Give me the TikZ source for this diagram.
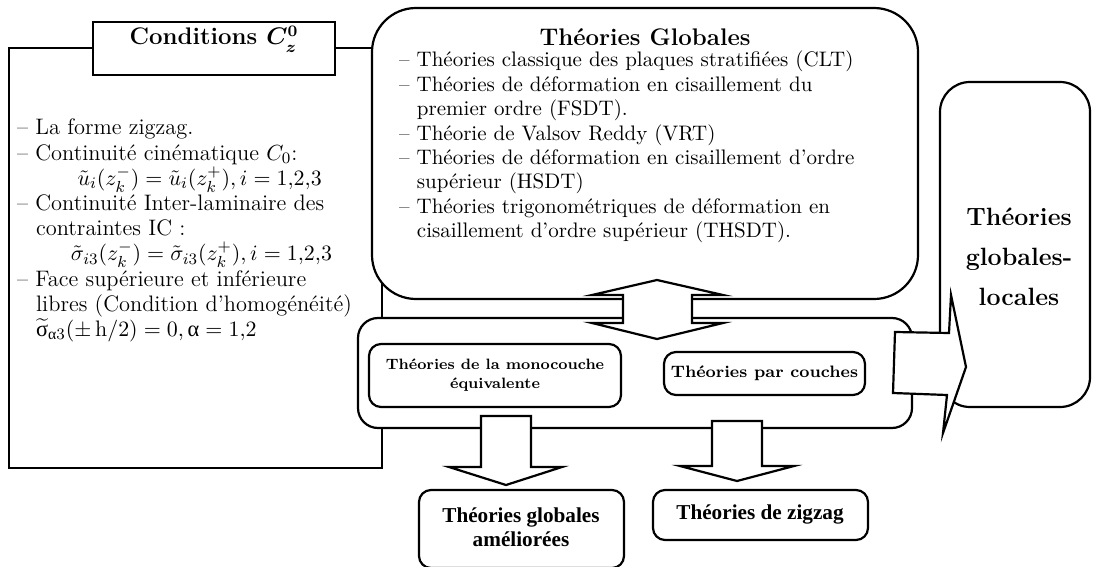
\documentclass[tikz,border=0pt]{standalone}
\usepackage{amsmath}
\usepackage{fontspec}
\newfontfamily\timesfont{Liberation Serif}
\newfontfamily\grk{Liberation Serif}
\usetikzlibrary{positioning,fit}
\tikzset{every path/.style={line width=1.1pt},
  box/.style={draw, fill=white, inner sep=0pt},
  rbox/.style={box, rounded corners=#1},
  barrow/.style={draw, fill=white, line join=miter},
  txt/.style={inner sep=0pt, align=left, font=\fontsize{11.2}{12.6}\selectfont},
  smallbold/.style={inner sep=0pt, align=center, font=\fontsize{7.5}{9.5}\selectfont\bfseries},
  timesbold/.style={inner sep=0pt, align=center, font=\fontsize{10.6}{11.8}\selectfont\timesfont\bfseries}}
\newcommand{\ind}{\hspace*{0.85em}}

\begin{document}
\begin{tikzpicture}[x=0.5pt,y=-0.5pt]
  \useasboundingbox (0,0) rectangle (1097,567);
  \node[box, fit={(9,48) (382,468)}] (cond) {};
  \node[box, fit={(93,22) (335,75)}, font=\fontsize{12}{14}\selectfont\bfseries] (condtitle) {Conditions $\boldsymbol{C_z^0}$};
  \node[txt, anchor=north west] (condtxt) at (16,118) {%
    \textendash{} La forme zigzag.\\
    \textendash{} Continuité cinématique $C_0$:\\
    \hspace*{2.7em}$\tilde u_i(z_k^-) = \tilde u_i(z_k^+), i = 1{,}2{,}3$\\
    \textendash{} Continuité Inter-laminaire des\\
    \ind contraintes IC :\\
    \hspace*{2.4em}$\tilde\sigma_{i3}(z_k^-) = \tilde\sigma_{i3}(z_k^+), i = 1{,}2{,}3$\\
    \textendash{} Face supérieure et inférieure\\
    \ind libres (Condition d'homogénéité)\\
    \ind $\widetilde{\text{\grk σ}}_{\text{\grk α}3}(\pm\,\mathrm{h}/2) = 0, \text{\grk α} = 1{,}2$};

  \node[rbox=22pt, fit={(372,8) (918,299)}] (glob) {};
  \node[inner sep=0pt, font=\fontsize{12}{14}\selectfont\bfseries] (globtitle) at (645,37) {Théories Globales};
  \node[txt, anchor=north west, font=\fontsize{10.5}{12.2}\selectfont] (globtxt) at (398,50) {%
    \textendash{} Théories classique des plaques stratifiées (CLT)\\
    \textendash{} Théories de déformation en cisaillement du\\
    \ind premier ordre (FSDT).\\
    \textendash{} Théorie de Valsov Reddy (VRT)\\
    \textendash{} Théories de déformation en cisaillement d'ordre\\
    \ind supérieur (HSDT)\\
    \textendash{} Théories trigonométriques de déformation en\\
    \ind cisaillement d'ordre supérieur (THSDT).};

  \node[rbox=15pt, fit={(940,82) (1090,407)}] (gl) {};
  \node[inner sep=0pt, align=center, font=\fontsize{12.5}{20}\selectfont\bfseries] (gltxt) at (1019,257) {Théories\\globales-\\locales};

  \node[rbox=10pt, fit={(358,318) (912,428)}] (mid) {};
  \node[rbox=6pt, fit={(369,344) (621,407)}] (mono) {};
  \node[smallbold] (monotxt) at (mono) {Théories de la monocouche\\équivalente};
  \node[rbox=6pt, fit={(664,352) (865,395)}] (couches) {};
  \node[smallbold, font=\fontsize{8.3}{10}\selectfont\bfseries] (couchestxt) at (couches) {Théories par couches};

  \draw[barrow] (657,280) -- (723,295) -- (692,295) -- (692,323) -- (723,323) -- (657,339)
    -- (592,323) -- (623,323) -- (623,295) -- (592,295) -- cycle;
  \draw[barrow] (481,416) -- (531,416) -- (531,467) -- (562,467) -- (506,485) -- (449,467) -- (481,467) -- cycle;
  \draw[barrow] (712,421) -- (762,421) -- (762,466) -- (794,466) -- (737,481) -- (680,466) -- (712,466) -- cycle;
  \draw[barrow] (895,332) -- (949,333) -- (951,295) -- (966,367) -- (943,433) -- (947,395) -- (893,393) -- cycle;

  \node[rbox=6pt, fit={(419,490) (624,568)}] (ameliorees) {};
  \node[timesbold] (amelioreestxt) at (521,527) {Théories globales\\améliorées};
  \node[rbox=6pt, fit={(653,490) (868,540)}] (zigzag) {};
  \node[timesbold] (zigzagtxt) at (760,514) {Théories de zigzag};
\end{tikzpicture}
\end{document}
